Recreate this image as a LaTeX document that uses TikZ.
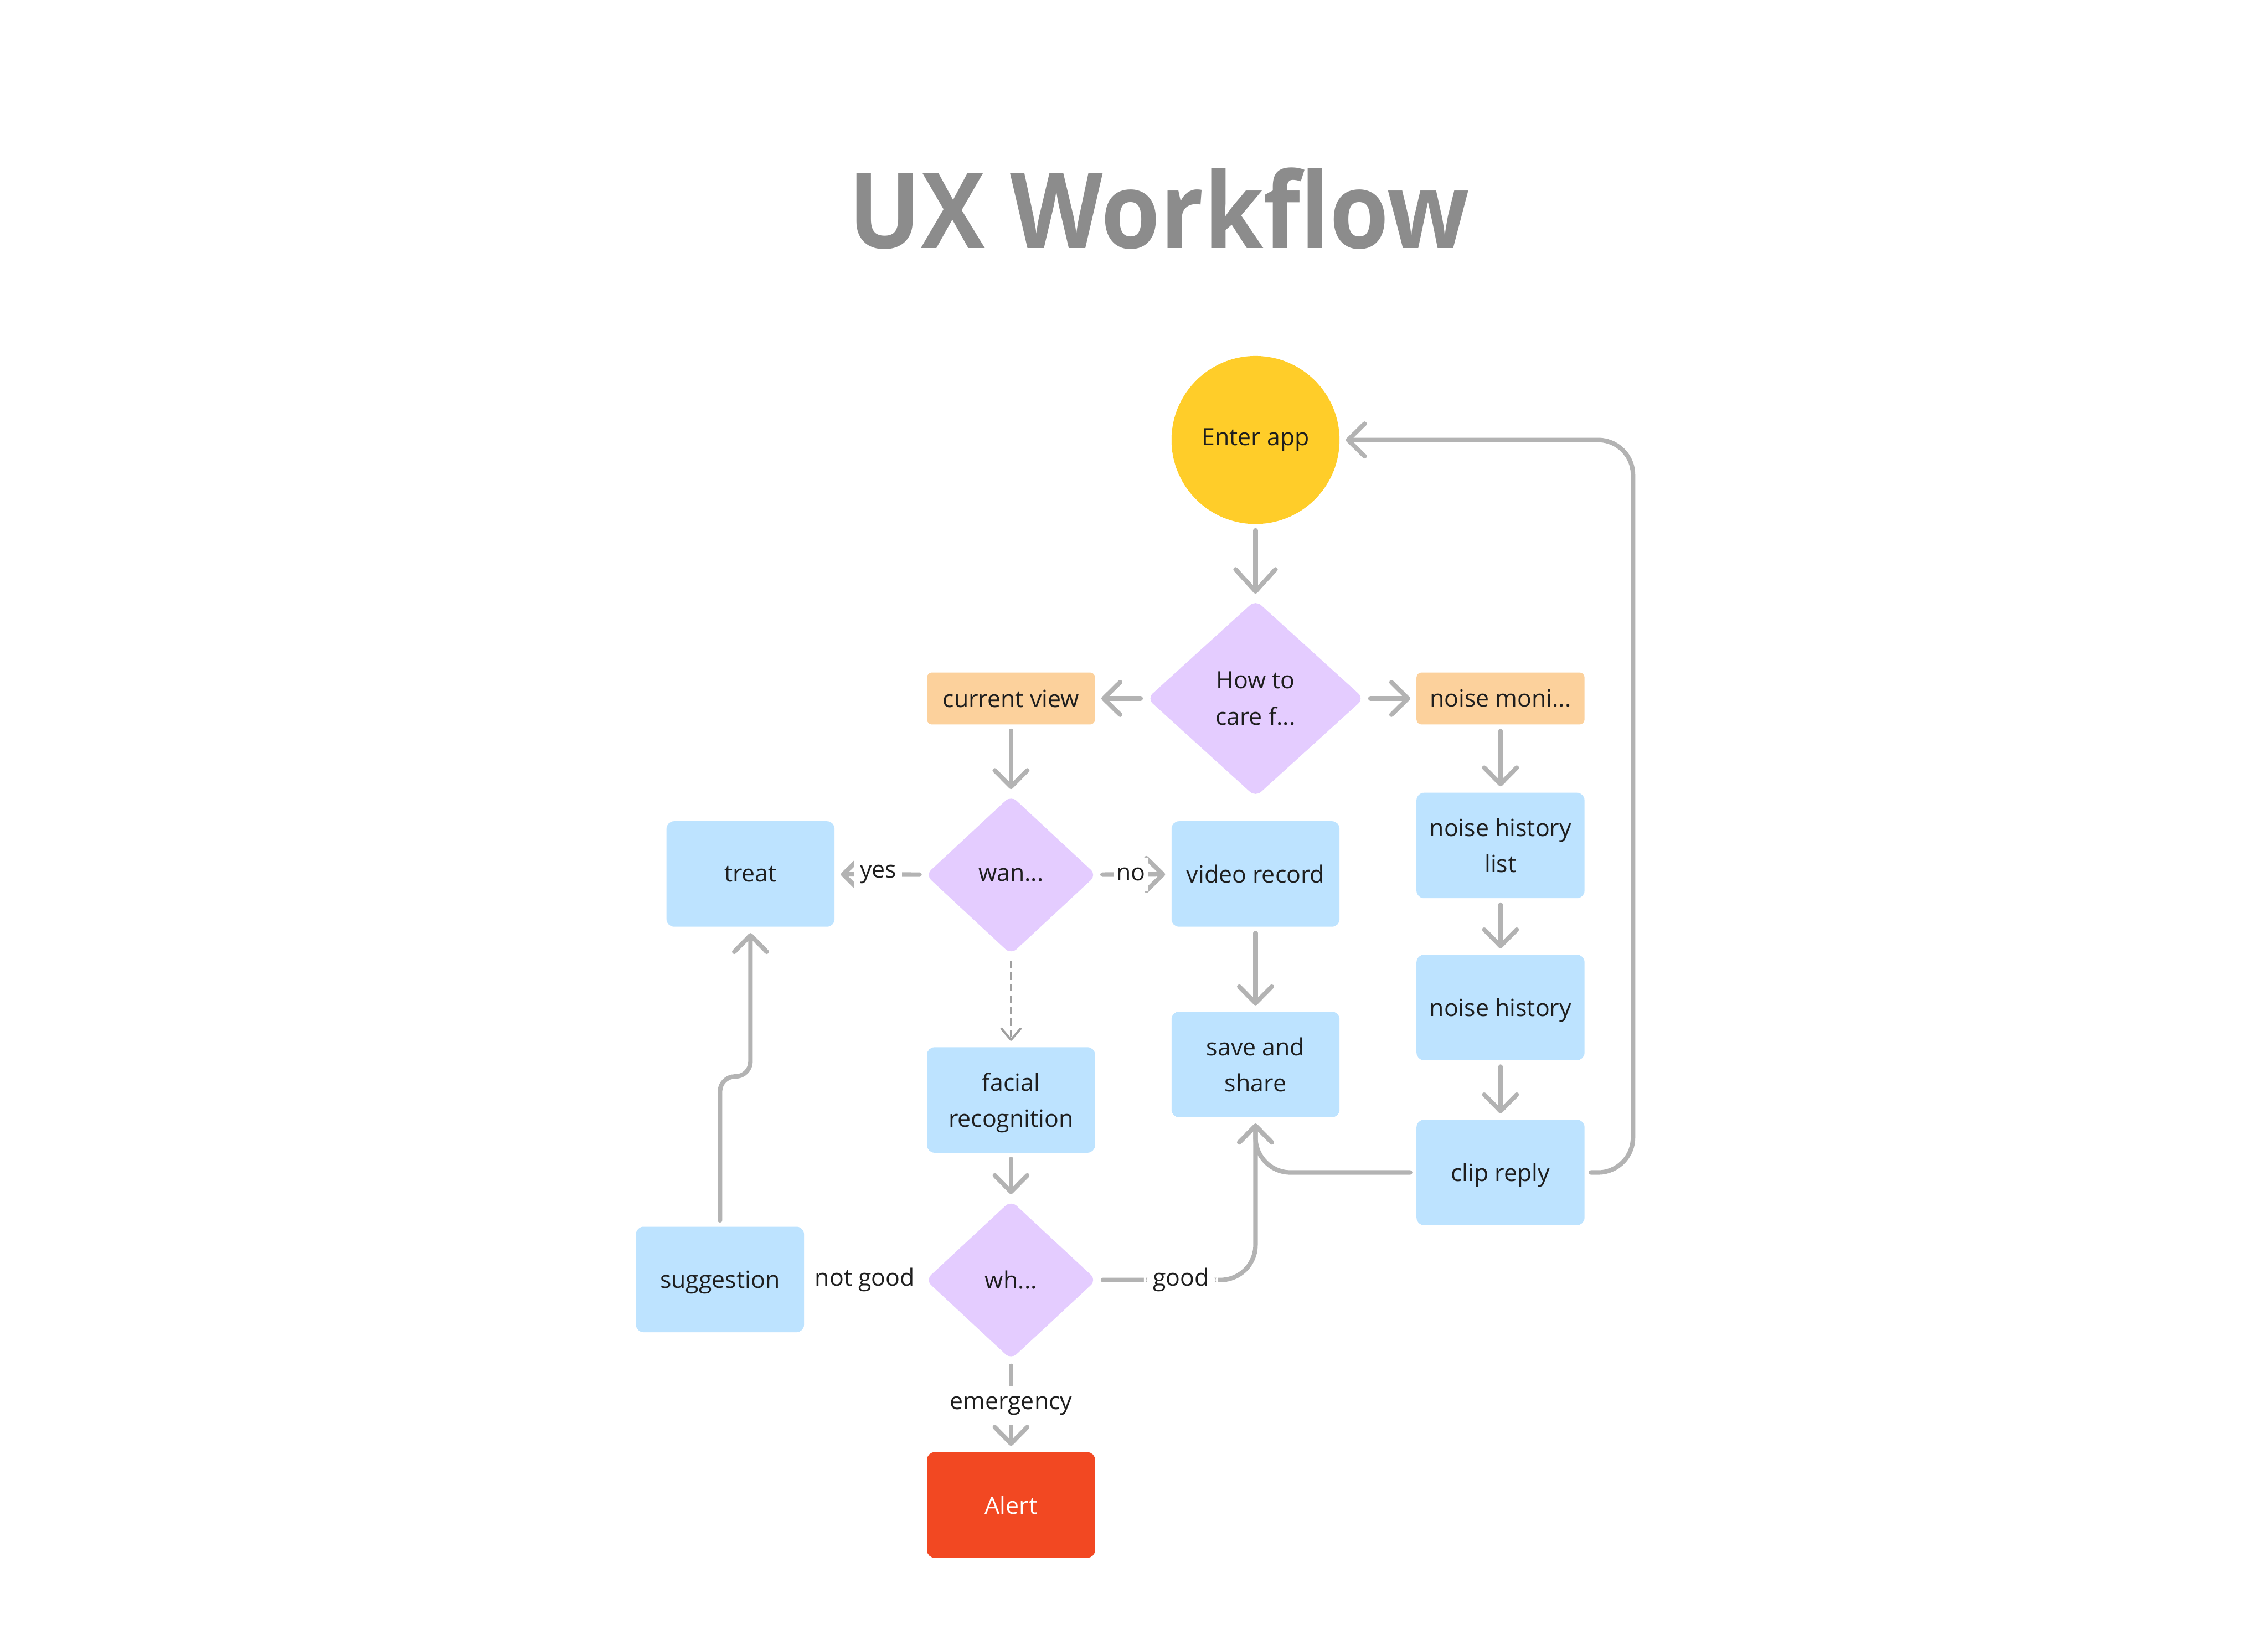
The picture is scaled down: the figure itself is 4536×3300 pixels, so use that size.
\documentclass[tikz,border=0pt]{standalone}
\usepackage{fontspec}
\setmainfont{Open Sans}
\newfontfamily\titlefont[FakeStretch=0.91]{Open Sans}
\usetikzlibrary{arrows.meta,shapes.geometric}
\definecolor{cyellow}{HTML}{FFCD29}
\definecolor{cpurple}{HTML}{E4CCFF}
\definecolor{cblue}{HTML}{BDE3FF}
\definecolor{corange}{HTML}{FCD19C}
\definecolor{cred}{HTML}{F24822}
\definecolor{cline}{HTML}{B3B3B3}
\definecolor{cdash}{HTML}{A0A0A0}
\definecolor{ctext}{HTML}{1E1E1E}
\definecolor{ctitle}{HTML}{8C8C8C}
\begin{document}
\begin{tikzpicture}[x=0.1mm,y=-0.1mm,
  every node/.style={font=\fontsize{13.5}{20.5}\selectfont, text=ctext, align=center},
  box/.style={fill=cblue, rounded corners=1.5mm, minimum width=33.6mm, minimum height=21.1mm, inner sep=0, text depth=0pt},
  obox/.style={fill=corange, rounded corners=1mm, minimum width=33.6mm, minimum height=10.4mm, inner sep=0},
  dia/.style={shape=diamond, fill=cpurple, rounded corners=1.5mm, inner sep=0, minimum width=34.2mm, minimum height=31.8mm},
  conn/.style={draw=cline, line width=0.9mm, line cap=round, shorten >=1.2mm, shorten <=1.2mm,
     -{Straight Barb[length=3.3mm,width=6.5mm,round]}},
  dconn/.style={draw=cdash, line width=0.45mm, dash pattern=on 1.5mm off 0.8mm, shorten >=1.2mm, shorten <=1.2mm,
     -{Straight Barb[length=2.2mm,width=3.8mm,round]}},
  lbl/.style={fill=white, inner xsep=1.8mm, inner ysep=2mm},
  slbl/.style={fill=white, inner xsep=1.1mm, inner ysep=2mm}]
\path[use as bounding box] (0,0) rectangle (4536,3300);

\node[font=\titlefont\bfseries\fontsize{60}{60}\selectfont, text=ctitle, anchor=base] (title) at (2318,497) {UX Workflow};

\node[circle, fill=cyellow, minimum size=33.6mm, inner sep=0] (enter) at (2511,880) {Enter app};
\node[dia, minimum width=43.4mm, minimum height=39.4mm] (how) at (2511,1397) {How to\\care f...};
\node[obox] (cur) at (2022,1397) {current view};
\node[obox] (noise) at (3001,1397) {noise moni...};
\node[dia] (wan) at (2022,1750) {wan...};
\node[box] (treat) at (1501,1748) {treat};
\node[box] (video) at (2511,1748) {video record};
\node[box] (nhl) at (3001,1691) {noise history\\list};
\node[box] (nh) at (3001,2015) {noise history};
\node[box] (clip) at (3001,2345) {clip reply};
\node[box] (save) at (2511,2129) {save and\\share};
\node[box] (facial) at (2022,2200) {facial\\recognition};
\node[dia] (wh) at (2022,2560) {wh...};
\node[box] (sugg) at (1440,2559) {suggestion};
\node[box, fill=cred, text=white] (alert) at (2022,3010) {Alert};

\coordinate (jog) at (1470,2153);
\coordinate (rx) at (3266,880);

\draw[conn, -{Straight Barb[length=4.4mm,width=8mm,round]}] (enter) -- (how);
\draw[conn] (how) -- (cur);
\draw[conn] (how) -- (noise);
\draw[conn] (cur) -- (wan);
\draw[conn] (noise) -- (nhl);
\draw[conn] (wan) -- node[slbl, pos=0.52]{yes} (treat);
\draw[conn] (wan) -- node[fill=white, inner xsep=0.5mm, inner ysep=2mm, pos=0.46]{no} (video);
\draw[dconn] (wan) -- (facial);
\draw[conn] (video) -- (save);
\draw[conn] (nhl) -- (nh);
\draw[conn] (nh) -- (clip);
\draw[conn] (facial) -- (wh);
\draw[conn, -] (wh) -- node[lbl]{not good} (sugg);
\draw[conn, rounded corners=7mm] (wh.east) -- node[lbl, pos=0.53]{good} (wh.east -| save.south) -- (save.south);
\draw[conn] (wh) -- node[lbl]{emergency} (alert);
\draw[conn, rounded corners=3mm] (sugg.north) -- (sugg.north |- jog) -- (treat.south |- jog) -- (treat.south);
\draw[conn, rounded corners=7mm] (clip.west) -| (save.south);
\draw[conn, rounded corners=7mm] (clip.east) -| (rx) -- (enter.east);
\end{tikzpicture}
\end{document}
